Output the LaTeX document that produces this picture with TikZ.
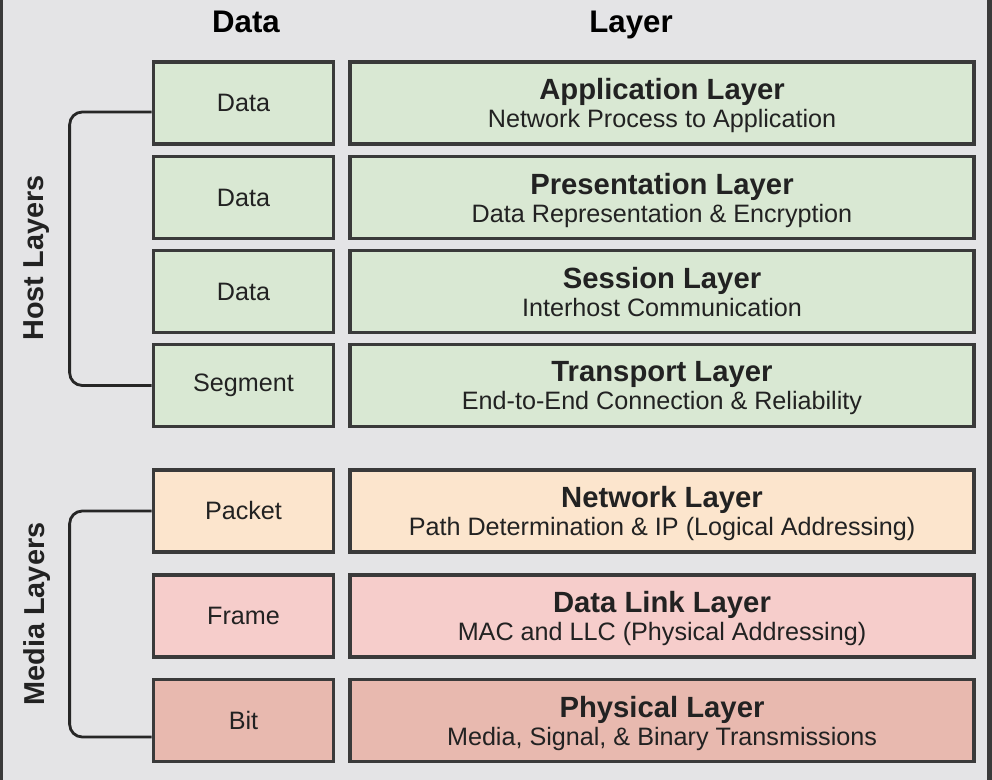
\documentclass[tikz,border=0pt]{standalone}
\usepackage{fontspec}
\setmainfont{Liberation Sans}
\usetikzlibrary{positioning,calc}

\definecolor{bggray}{HTML}{E4E4E6}
\definecolor{edgegray}{HTML}{3A3A3A}
\definecolor{hostgreen}{HTML}{D9E8D3}
\definecolor{netorange}{HTML}{FCE5CD}
\definecolor{linkpink}{HTML}{F6CDCB}
\definecolor{physred}{HTML}{E8B9AF}
\definecolor{txtgray}{HTML}{222222}

\tikzset{
  databox/.style={draw=edgegray, line width=2.6pt, minimum width=4.5cm, minimum height=2.05cm, text=txtgray, font=\fontsize{17.9}{20}\selectfont, inner sep=0pt},
  layerbox/.style={draw=edgegray, line width=2.6pt, minimum width=15.6cm, minimum height=2.05cm, text=txtgray, align=center, inner sep=0pt, text depth=0pt, font=\fontsize{17.9}{19.9}\selectfont},
  header/.style={anchor=base, font=\fontsize{22.2}{24}\selectfont\bfseries, text=black},
  sidelabel/.style={rotate=90, font=\fontsize{20.5}{22}\selectfont\bfseries, text=txtgray},
  bracket/.style={draw=black!85, line width=2pt, rounded corners=9pt},
}
\newcommand{\layertext}[2]{{\fontsize{20.8}{19.9}\selectfont\bfseries #1}\\#2}

\begin{document}
\begin{tikzpicture}[x=0.025cm, y=-0.025cm]
  % Frame and background
  \fill[bggray] (0,0) rectangle (992,780);
  \useasboundingbox (0,0) rectangle (992,780);
  \fill[edgegray] (0,0) rectangle (3,780);
  \fill[edgegray] (987,0) rectangle (992,780);

  % Column headers
  \node[header] (hdata) at (246,33) {Data};
  \node[header] (hlayer) at (631,33) {Layer};

  % Host layers (green)
  \node[databox, fill=hostgreen] (d1) at (243.5,103) {Data};
  \node[databox, fill=hostgreen] (d2) at (243.5,197.5) {Data};
  \node[databox, fill=hostgreen] (d3) at (243.5,291.5) {Data};
  \node[databox, fill=hostgreen] (d4) at (243.5,385.5) {Segment};
  \node[layerbox, fill=hostgreen] (l1) at (662,103) {\layertext{Application Layer}{Network Process to Application}};
  \node[layerbox, fill=hostgreen] (l2) at (662,197.5) {\layertext{Presentation Layer}{Data Representation \& Encryption}};
  \node[layerbox, fill=hostgreen] (l3) at (662,291.5) {\layertext{Session Layer}{Interhost Communication}};
  \node[layerbox, fill=hostgreen] (l4) at (662,385.5) {\layertext{Transport Layer}{End-to-End Connection \& Reliability}};

  % Media layers
  \node[databox, fill=netorange] (d5) at (243.5,511) {Packet};
  \node[databox, fill=linkpink] (d6) at (243.5,616) {Frame};
  \node[databox, fill=physred] (d7) at (243.5,720.5) {Bit};
  \node[layerbox, fill=netorange] (l5) at (662,511) {\layertext{Network Layer}{Path Determination \& IP (Logical Addressing)}};
  \node[layerbox, fill=linkpink] (l6) at (662,616) {\layertext{Data Link Layer}{MAC and LLC (Physical Addressing)}};
  \node[layerbox, fill=physred] (l7) at (662,720.5) {\layertext{Physical Layer}{Media, Signal, \& Binary Transmissions}};

  % Brackets
  \draw[bracket] ($(d1.west)+(0,9)$) -- ++(-82,0) |- (d4.west);
  \draw[bracket] (d5.west) -- ++(-82,0) |- ($(d7.west)+(0,16.5)$);

  % Side labels
  \node[sidelabel] (host) at (37,258) {Host Layers};
  \node[sidelabel] (media) at (37,614) {Media Layers};
\end{tikzpicture}
\end{document}
